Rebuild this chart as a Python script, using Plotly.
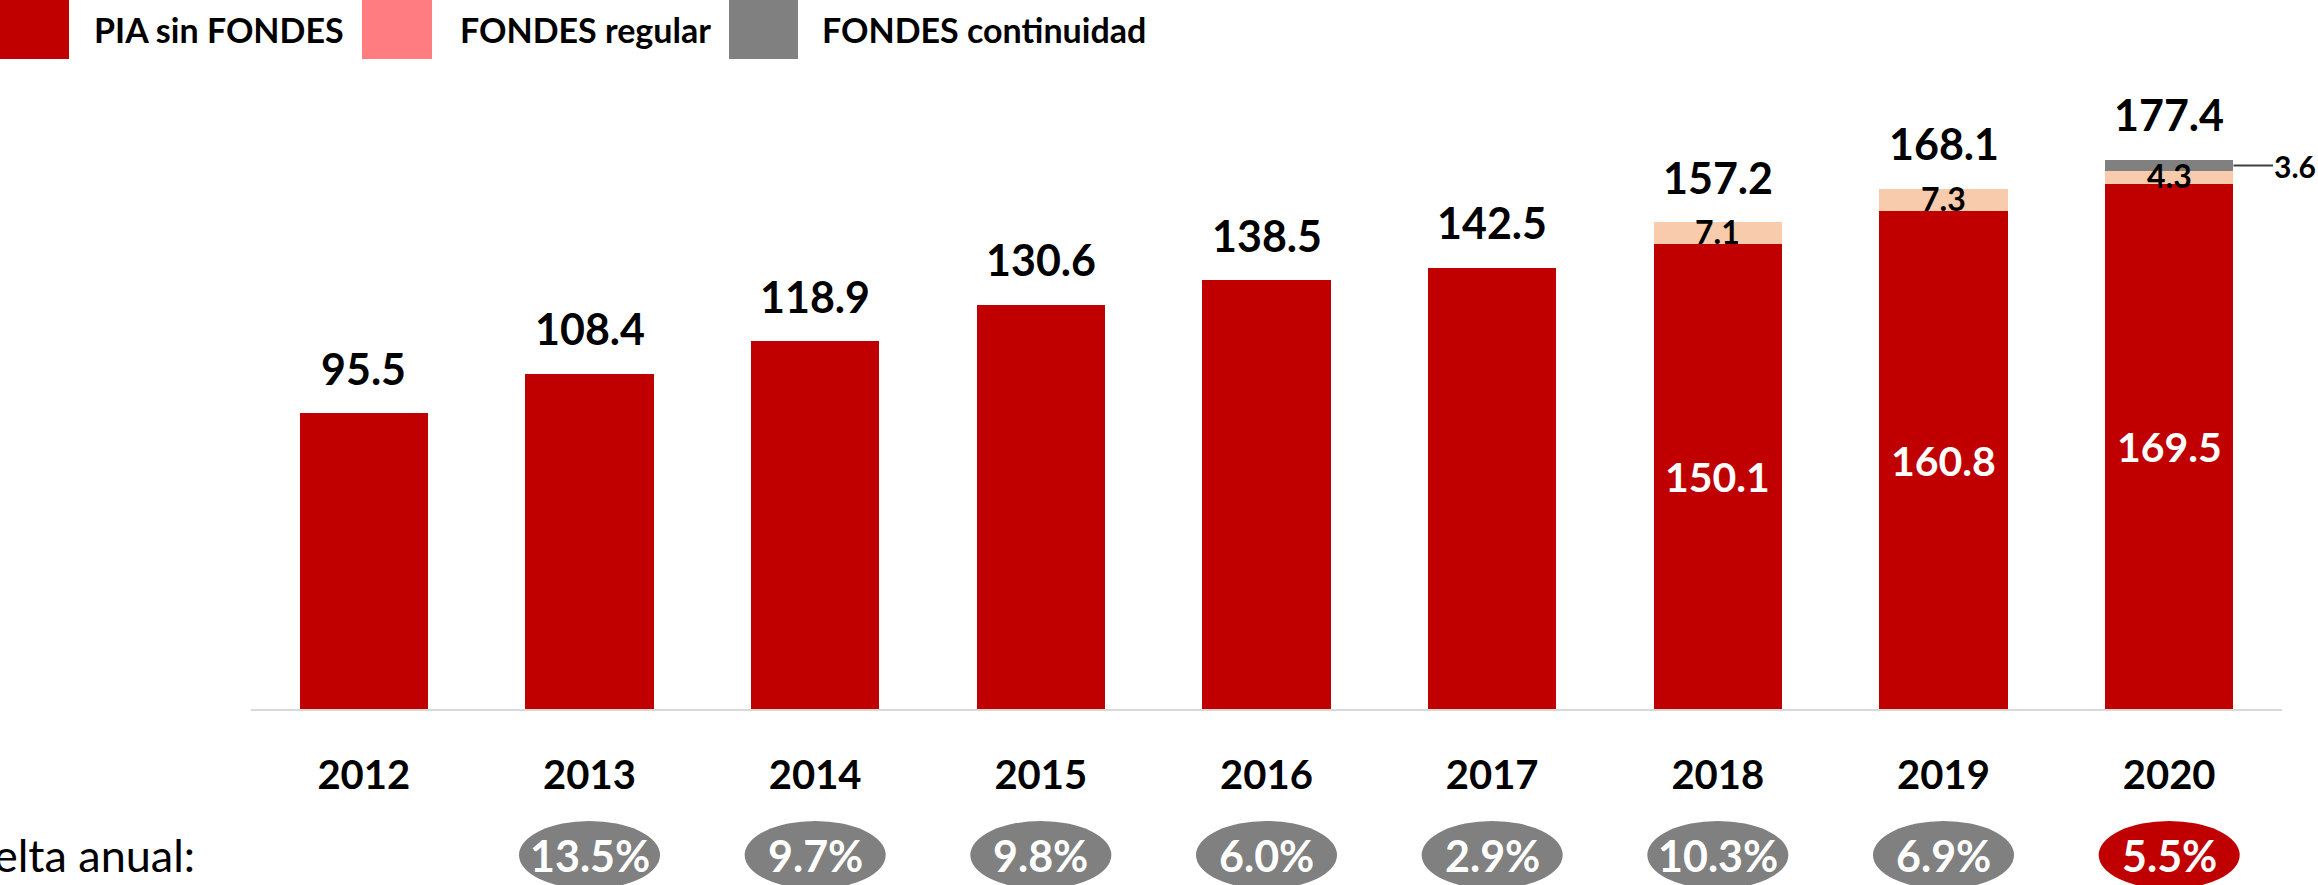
import plotly.graph_objects as go

years = ["2012", "2013", "2014", "2015", "2016", "2017", "2018", "2019", "2020"]
pia_sin_fondes = [95.5, 108.4, 118.9, 130.6, 138.5, 142.5, 150.1, 160.8, 169.5]
fondes_regular = [0, 0, 0, 0, 0, 0, 7.1, 7.3, 4.3]
fondes_continuidad = [0, 0, 0, 0, 0, 0, 0, 0, 3.6]
totals = [95.5, 108.4, 118.9, 130.6, 138.5, 142.5, 157.2, 168.1, 177.4]
growth = ["", "13.5%", "9.7%", "9.8%", "6.0%", "2.9%", "10.3%", "6.9%", "5.5%"]
legend_names = ["PIA sin FONDES", "FONDES regular", "FONDES continuidad"]

RED = "#C00000"
PEACH = "#F8CBAD"
SALMON = "#FF7C80"
GRAY = "#808080"
FONT = "Lato, Carlito, Calibri, sans-serif"

W, H = 2318, 885
ML, MR, MT, MB = 251, 36, 90, 176
PW, PH = W - ML - MR, H - MT - MB


def px_to_paper_x(px):
    return (px - ML) / PW


def px_to_paper_y(py):
    return (H - MB - py) / PH


fig = go.Figure()
fig.add_trace(go.Bar(x=years, y=pia_sin_fondes, marker=dict(color=RED, line=dict(width=0)),
                     name=legend_names[0], showlegend=False, hoverinfo="skip"))
fig.add_trace(go.Bar(x=years, y=fondes_regular, marker=dict(color=PEACH, line=dict(width=0)),
                     name=legend_names[1], showlegend=False, hoverinfo="skip"))
fig.add_trace(go.Bar(x=years, y=fondes_continuidad, marker=dict(color=GRAY, line=dict(width=0)),
                     name=legend_names[2], showlegend=False, hoverinfo="skip"))

ann = []
shapes = []

# totals above bars
for i, t in enumerate(totals):
    ann.append(dict(x=i, y=t, xref="x", yref="y", text=f"{t:.1f}", showarrow=False,
                    yanchor="middle", yshift=45,
                    font=dict(family=FONT, size=43, color="black", weight="bold")))

# inner labels for stacked years
for i in range(len(years)):
    if fondes_regular[i] > 0:
        ann.append(dict(x=i, y=pia_sin_fondes[i] / 2, xref="x", yref="y",
                        text=f"{pia_sin_fondes[i]:.1f}", showarrow=False, yanchor="middle",
                        font=dict(family=FONT, size=41, color="white", weight="bold")))
        ann.append(dict(x=i, y=pia_sin_fondes[i] + fondes_regular[i] / 2, xref="x", yref="y",
                        text=f"{fondes_regular[i]:.1f}", showarrow=False, yanchor="middle", yshift=2,
                        font=dict(family=FONT, size=32, color="black", weight="bold")))
    if fondes_continuidad[i] > 0:
        ann.append(dict(x=i + 0.285, y=pia_sin_fondes[i] + fondes_regular[i] + fondes_continuidad[i] / 2,
                        xref="x", yref="y", text=f"{fondes_continuidad[i]:.1f}",
                        showarrow=True, arrowhead=0, arrowwidth=2, arrowcolor="#404040",
                        ax=62, ay=0, xanchor="center",
                        font=dict(family=FONT, size=30, color="black", weight="bold")))

# growth bubbles
cy = px_to_paper_y(855)
hh = 34 / PH
for i, g in enumerate(growth):
    if not g:
        continue
    col = RED if i == len(growth) - 1 else GRAY
    shapes.append(dict(type="circle", xref="x", yref="paper", x0=i - 0.3125, x1=i + 0.3125,
                       y0=cy - hh, y1=cy + hh, fillcolor=col, line=dict(width=0), layer="above"))
    ann.append(dict(x=i, y=cy, xref="x", yref="paper", text=g, showarrow=False,
                    yanchor="middle", xanchor="center",
                    font=dict(family=FONT, size=43, color="white", weight="bold")))

ann.append(dict(x=px_to_paper_x(197), y=cy, xref="paper", yref="paper", text="Delta anual:",
                showarrow=False, xanchor="right", yanchor="middle",
                font=dict(family=FONT, size=45, color="black")))

# manual legend
leg = [(0, 69, 92, RED), (362, 432, 458, SALMON), (729, 798, 820, GRAY)]
for (x0, x1, tx, col), name in zip(leg, legend_names):
    shapes.append(dict(type="rect", xref="paper", yref="paper",
                       x0=px_to_paper_x(x0), x1=px_to_paper_x(x1),
                       y0=px_to_paper_y(59), y1=px_to_paper_y(0),
                       fillcolor=col, line=dict(width=0)))
    ann.append(dict(x=px_to_paper_x(tx), y=px_to_paper_y(29), xref="paper", yref="paper",
                    text=name, showarrow=False, xanchor="left", yanchor="middle",
                    font=dict(family=FONT, size=34, color="black", weight="bold")))

fig.update_layout(
    width=W, height=H,
    margin=dict(l=ML, r=MR, t=MT, b=MB, pad=0),
    barmode="stack", bargap=0.43,
    plot_bgcolor="white", paper_bgcolor="white",
    showlegend=False,
    annotations=ann, shapes=shapes,
    xaxis=dict(type="category", range=[-0.5, 8.5], showgrid=False, zeroline=False,
               showline=True, linecolor="#D9D9D9", linewidth=2,
               ticks="", ticklabelstandoff=30,
               tickfont=dict(family=FONT, size=40, color="black", weight="bold")),
    yaxis=dict(range=[0, 200], visible=False, showgrid=False),
)

fig.write_html("out.html", config={"displayModeBar": False},
               post_script="document.body.style.margin='0px';document.body.style.overflow='hidden';")
